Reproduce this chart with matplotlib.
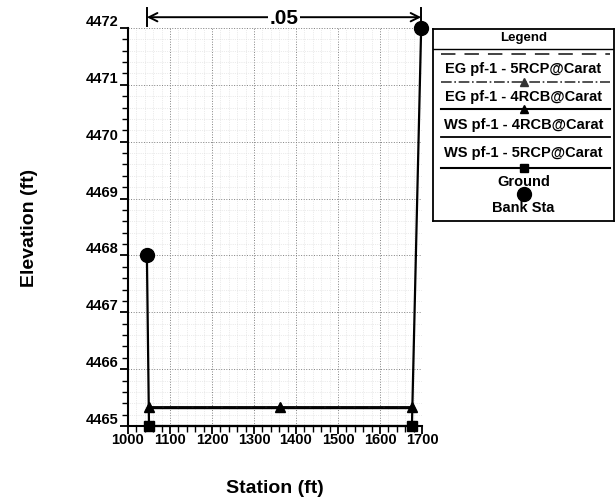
import matplotlib
matplotlib.use("Agg")
import matplotlib.pyplot as plt
from matplotlib.ticker import MultipleLocator

plt.rcParams['font.family'] = ['Liberation Sans', 'DejaVu Sans']
plt.rcParams['font.weight'] = 'bold'

# ---- data ----
ground_x = [1045, 1050, 1676, 1698]
ground_y = [4468.0, 4465.0, 4465.0, 4472.0]
ground_mk_x = [1050, 1676]
ground_mk_y = [4465.0, 4465.0]
ws_x = [1050, 1362, 1676]
ws_4rcb_y = [4465.33, 4465.33, 4465.33]
ws_5rcp_y = [4465.32, 4465.32, 4465.32]
eg_4rcb_y = [4465.34, 4465.34, 4465.34]
eg_5rcp_y = [4465.335, 4465.335, 4465.335]
bank_x = [1045, 1698]
bank_y = [4468.0, 4472.0]
mann_n = ".05"

legend_labels = ["EG pf-1 - 5RCP@Carat", "EG pf-1 - 4RCB@Carat",
                 "WS pf-1 - 4RCB@Carat", "WS pf-1 - 5RCP@Carat",
                 "Ground", "Bank Sta"]

W, H = 616, 502
fig = plt.figure(figsize=(W/100, H/100), dpi=100)
ax = fig.add_axes([128/W, 1-427/H, (422-128)/W, (427-29)/H])

ax.set_xlim(1000, 1700)
ax.set_ylim(4465, 4472)
ax.xaxis.set_major_locator(MultipleLocator(100))
ax.xaxis.set_minor_locator(MultipleLocator(20))
ax.yaxis.set_major_locator(MultipleLocator(1))
ax.yaxis.set_minor_locator(MultipleLocator(0.2))
ax.grid(True, which='major', linestyle=':', color='0.5', lw=0.7)
ax.grid(True, which='minor', linestyle=':', color='0.85', lw=0.5)
ax.set_axisbelow(True)

for s in ['top', 'right']:
    ax.spines[s].set_visible(False)
for s in ['left', 'bottom']:
    ax.spines[s].set_linewidth(1.5)
ax.tick_params(which='major', direction='out', length=6, width=1.3, labelsize=10.5)
ax.tick_params(axis='y', which='major', pad=1)
ax.tick_params(axis='x', which='major', pad=-2)
ax.tick_params(which='minor', direction='out', length=4, width=1.0)
for lab in ax.get_yticklabels():
    lab.set_verticalalignment('bottom')
    lab.set_fontweight('bold')
for lab in ax.get_xticklabels():
    lab.set_fontweight('bold')

# series
ax.plot(ws_x, eg_5rcp_y, color='0.3', lw=1.0, ls='--')
ax.plot(ws_x, eg_4rcb_y, color='0.3', lw=1.0, ls='-.', marker='^', ms=6)
ax.plot(ws_x, ws_4rcb_y, color='black', lw=1.3, marker='^', ms=7)
ax.plot(ws_x, ws_5rcp_y, color='black', lw=1.0)
ax.plot(ground_x, ground_y, color='black', lw=1.6, clip_on=False, zorder=4)
ax.plot(ground_mk_x, ground_mk_y, ls='none', marker='s', color='black', ms=7, clip_on=False, zorder=5)
ax.plot(bank_x, bank_y, ls='none', marker='o', color='black', ms=10, clip_on=False, zorder=6)

# manning's n annotation
ytop = 4472.19
ax.annotate('', xy=(bank_x[0], ytop), xytext=(bank_x[1], ytop),
            arrowprops=dict(arrowstyle='<->', lw=1.4, color='black',
                            shrinkA=0, shrinkB=0, mutation_scale=15),
            annotation_clip=False)
for bx in bank_x:
    ax.plot([bx, bx], [ytop - 0.15, ytop + 0.17], color='black', lw=1.4, clip_on=False)
ax.text(sum(bank_x)/2, ytop, mann_n, ha='center', va='center', fontsize=15,
        fontweight='bold', bbox=dict(facecolor='white', edgecolor='none', pad=1),
        clip_on=False)

ax.set_xlabel('Station (ft)', fontsize=14, fontweight='bold', labelpad=24)
ax.set_ylabel('Elevation (ft)', fontsize=14, fontweight='bold', labelpad=34)

# ---- legend (manual) ----
lx0, lx1, ly0, ly1 = 433, 614, 30, 222
lax = fig.add_axes([lx0/W, 1-ly1/H, (lx1-lx0)/W, (ly1-ly0)/H])
lax.set_xlim(lx0, lx1)
lax.set_ylim(ly1, ly0)
lax.set_xticks([]); lax.set_yticks([])
for s in lax.spines.values():
    s.set_linewidth(1.3)
lax.text((lx0+lx1)/2, 38, 'Legend', ha='center', va='center', fontsize=9.5, fontweight='bold')
lax.plot([lx0, lx1], [50, 50], color='black', lw=1.0)

styles = [dict(color='0.2', lw=1.3, ls=(0, (8, 5))),
          dict(color='0.2', lw=1.2, ls='-.', marker='^', ms=6),
          dict(color='black', lw=1.5, marker='^', ms=6),
          dict(color='black', lw=1.3),
          dict(color='black', lw=1.5, marker='s', ms=6),
          dict(ls='none', marker='o', color='black', ms=10)]
sample_y = [55, 83, 110, 138, 169, 195]
text_y = [69, 97, 125, 153, 182, 208]
cx = (lx0 + lx1) / 2
for lab, st, sy, ty in zip(legend_labels, styles, sample_y, text_y):
    lax.plot([lx0 + 8, cx, lx1 - 4], [sy, sy, sy], markevery=[1], **st)
    lax.text(cx, ty, lab, ha='center', va='center', fontsize=10.5, fontweight='bold')

fig.savefig('out.png', dpi=100)
